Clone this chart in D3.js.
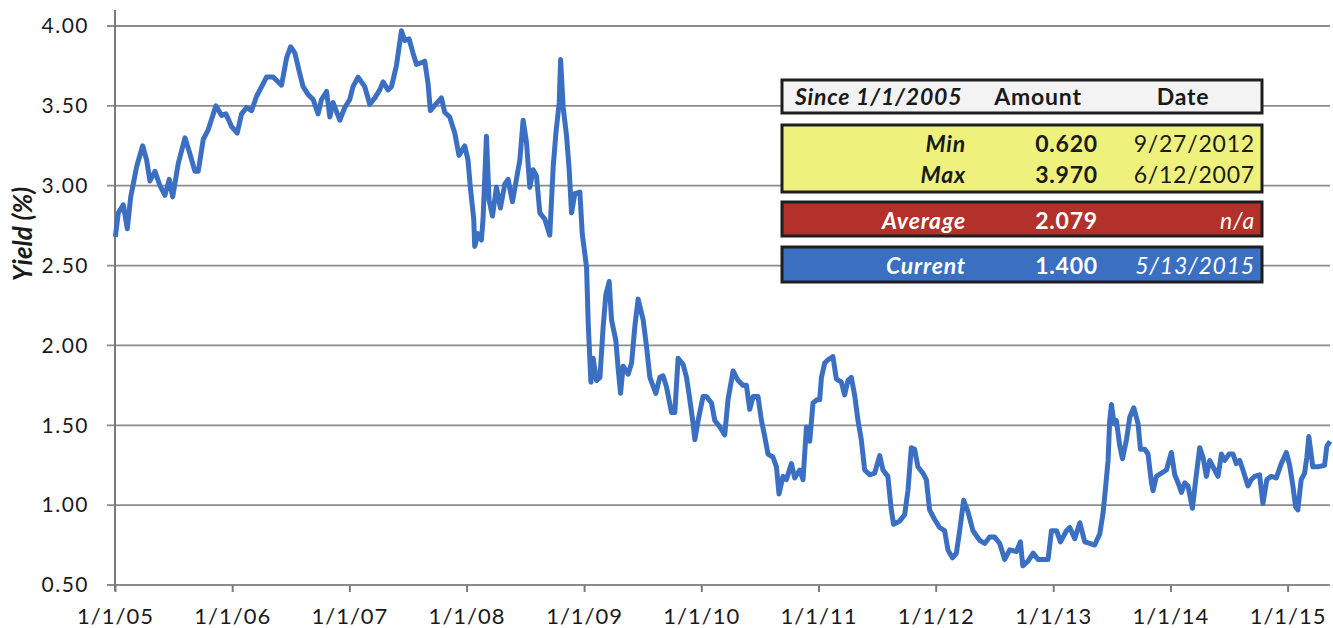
<html>
  <head>
    <title>Yield Since 1/1/2005</title>
    <style>
      body { margin: 0; background: #fff; }
      text { font-family: Lato, "Open Sans", sans-serif; }
    </style>
  </head>
  <body>
    <script src="https://d3js.org/d3.v7.min.js"></script>
    <script>
      const dateYears = [
        2005.003,2005.028,2005.071,2005.105,2005.134,2005.185,2005.236,2005.270,2005.298,2005.341,2005.384,2005.426,2005.463,2005.492,2005.540,2005.597,2005.639,2005.682,2005.710,2005.753,2005.795,2005.861,2005.910,2005.946,2005.995,
        2006.043,2006.080,2006.123,2006.165,2006.208,2006.251,2006.293,2006.350,2006.378,2006.421,2006.464,2006.498,2006.535,2006.577,2006.605,2006.648,2006.691,2006.733,2006.762,2006.805,2006.833,2006.861,2006.918,2006.961,
        2007.003,2007.031,2007.074,2007.131,2007.174,2007.217,2007.259,2007.287,2007.330,2007.359,2007.401,2007.444,2007.472,2007.509,2007.543,2007.572,2007.615,2007.643,2007.671,2007.691,2007.737,2007.785,2007.813,2007.856,2007.899,2007.935,2007.984,
        2008.012,2008.032,2008.061,2008.069,2008.097,2008.126,2008.140,2008.169,2008.191,2008.220,2008.254,2008.288,2008.325,2008.353,2008.390,2008.424,2008.453,2008.481,2008.510,2008.538,2008.566,2008.595,2008.623,2008.666,2008.708,2008.737,2008.760,2008.788,2008.800,2008.822,2008.851,2008.873,2008.893,2008.921,2008.964,2008.984,
        2009.021,2009.035,2009.058,2009.077,2009.106,2009.135,2009.163,2009.186,2009.214,2009.234,2009.271,2009.291,2009.311,2009.333,2009.376,2009.405,2009.433,2009.461,2009.504,2009.533,2009.561,2009.612,2009.646,2009.674,2009.703,2009.746,2009.774,2009.802,2009.845,2009.874,2009.902,2009.930,2009.945,2009.973,
        2010.015,2010.044,2010.087,2010.115,2010.158,2010.200,2010.228,2010.271,2010.314,2010.356,2010.385,2010.413,2010.442,2010.484,2010.513,2010.541,2010.569,2010.612,2010.641,2010.663,2010.697,2010.726,2010.769,2010.797,2010.840,2010.868,2010.897,2010.925,2010.953,2010.987,
        2011.010,2011.025,2011.053,2011.081,2011.123,2011.152,2011.195,2011.223,2011.251,2011.280,2011.308,2011.337,2011.365,2011.394,2011.436,2011.479,2011.522,2011.550,2011.592,2011.621,2011.641,2011.692,2011.735,2011.763,2011.792,2011.820,2011.848,2011.891,2011.920,2011.948,2011.991,
        2012.033,2012.076,2012.104,2012.142,2012.176,2012.204,2012.238,2012.274,2012.317,2012.374,2012.417,2012.459,2012.502,2012.545,2012.587,2012.630,2012.687,2012.721,2012.741,2012.786,2012.829,2012.871,2012.914,2012.956,2012.985,
        2013.028,2013.062,2013.113,2013.141,2013.184,2013.227,2013.269,2013.312,2013.354,2013.397,2013.425,2013.448,2013.468,2013.482,2013.497,2013.519,2013.539,2013.568,2013.591,2013.625,2013.653,2013.687,2013.724,2013.744,2013.781,2013.809,2013.838,2013.852,2013.880,2013.923,2013.966,
        2014.008,2014.037,2014.065,2014.094,2014.122,2014.150,2014.188,2014.216,2014.250,2014.278,2014.307,2014.335,2014.378,2014.406,2014.435,2014.463,2014.500,2014.534,2014.562,2014.591,2014.619,2014.662,2014.690,2014.719,2014.761,2014.789,2014.823,2014.861,2014.903,2014.946,2014.989,
        2015.017,2015.045,2015.068,2015.087,2015.116,2015.145,2015.164,2015.181,2015.215,2015.258,2015.315,2015.335,2015.362
      ];

      // yield (%) at each date
      const yields = [
        2.68,2.83,2.88,2.73,2.93,3.12,3.25,3.16,3.03,3.09,3.00,2.94,3.04,2.93,3.14,3.30,3.20,3.09,3.09,3.29,3.35,3.50,3.44,3.45,3.37,
        3.33,3.45,3.49,3.47,3.56,3.62,3.68,3.68,3.66,3.63,3.80,3.87,3.83,3.70,3.62,3.57,3.54,3.45,3.54,3.59,3.43,3.52,3.41,3.49,
        3.54,3.62,3.68,3.62,3.51,3.55,3.60,3.65,3.60,3.62,3.75,3.97,3.91,3.92,3.83,3.76,3.77,3.78,3.64,3.47,3.51,3.55,3.46,3.43,3.33,3.19,3.25,
        3.16,2.99,2.79,2.62,2.70,2.66,2.79,3.31,2.91,2.81,2.99,2.86,3.01,3.04,2.90,3.04,3.16,3.41,3.27,2.99,3.10,3.06,2.83,2.79,2.69,3.12,3.33,3.52,3.79,3.49,3.31,3.10,2.83,2.95,2.96,2.70,
        2.49,2.14,1.77,1.92,1.78,1.80,2.12,2.32,2.40,2.16,2.03,1.85,1.70,1.87,1.82,1.89,2.12,2.29,2.16,1.99,1.80,1.70,1.80,1.81,1.74,1.58,1.58,1.92,1.88,1.80,1.66,1.51,1.41,1.53,
        1.68,1.68,1.64,1.53,1.49,1.44,1.66,1.84,1.78,1.75,1.75,1.60,1.68,1.68,1.53,1.43,1.32,1.30,1.24,1.07,1.18,1.16,1.26,1.17,1.22,1.16,1.49,1.40,1.64,1.66,
        1.66,1.80,1.89,1.91,1.93,1.79,1.77,1.69,1.78,1.80,1.69,1.53,1.41,1.22,1.19,1.20,1.31,1.22,1.18,0.97,0.88,0.90,0.94,1.09,1.36,1.35,1.24,1.20,1.16,0.97,0.91,
        0.86,0.84,0.72,0.67,0.70,0.84,1.03,0.96,0.84,0.78,0.76,0.80,0.80,0.76,0.66,0.72,0.71,0.77,0.62,0.65,0.70,0.66,0.66,0.66,0.84,
        0.84,0.77,0.84,0.86,0.79,0.89,0.77,0.76,0.75,0.82,0.95,1.12,1.28,1.53,1.63,1.51,1.53,1.37,1.29,1.41,1.55,1.61,1.51,1.35,1.35,1.32,1.14,1.09,1.18,1.20,1.22,
        1.33,1.19,1.14,1.08,1.14,1.12,0.98,1.16,1.36,1.30,1.18,1.28,1.22,1.18,1.32,1.28,1.32,1.32,1.26,1.28,1.22,1.12,1.16,1.18,1.19,1.01,1.16,1.18,1.17,1.26,1.33,
        1.25,1.12,0.99,0.97,1.16,1.20,1.30,1.43,1.24,1.24,1.25,1.37,1.40
      ];

      const yTicks = [0.5, 1.0, 1.5, 2.0, 2.5, 3.0, 3.5, 4.0];
      const xTickYears = [2005, 2006, 2007, 2008, 2009, 2010, 2011, 2012, 2013, 2014, 2015];

      // summary table
      const tableHeader = ["Since 1/1/2005", "Amount", "Date"];
      const statLabels = ["Min", "Max", "Average", "Current"];
      const statAmounts = ["0.620", "3.970", "2.079", "1.400"];
      const statDates = ["9/27/2012", "6/12/2007", "n/a", "5/13/2015"];

      const width = 1333;
      const height = 628;
      const plotLeft = 115, plotRight = 1330, plotTop = 26, plotBottom = 585;
      const lineColor = "#3b6fc2";
      const gridColor = "#8c8c8c";

      // turn a decimal year into a Date
      function yearToDate(yv) {
        const yr = Math.floor(yv);
        const start = new Date(yr, 0, 1), end = new Date(yr + 1, 0, 1);
        return new Date(+start + (yv - yr) * (end - start));
      }

      const data = dateYears.map((d, i) => ({ date: yearToDate(d), value: yields[i] }));

      const x = d3.scaleTime()
        .domain([new Date(2005, 0, 1), new Date(2015, 4, 13)])
        .range([plotLeft, plotRight]);

      const y = d3.scaleLinear()
        .domain([0.5, 4.0])
        .range([plotBottom, plotTop]);

      const svg = d3.select("body").append("svg")
        .attr("width", width)
        .attr("height", height)
        .attr("viewBox", [0, 0, width, height]);

      // horizontal gridlines
      svg.append("g")
        .selectAll("line")
        .data(yTicks)
        .join("line")
          .attr("x1", plotLeft - 8)
          .attr("x2", plotRight)
          .attr("y1", d => y(d))
          .attr("y2", d => y(d))
          .attr("stroke", gridColor)
          .attr("stroke-width", 1.8);

      // y axis labels
      const yAxis = svg.append("g")
        .attr("transform", `translate(${plotLeft},0)`)
        .call(d3.axisLeft(y).tickValues(yTicks).tickFormat(d3.format(".2f")).tickSize(0).tickPadding(26));
      yAxis.select(".domain").remove();
      yAxis.selectAll("text")
        .attr("font-size", 21)
        .attr("letter-spacing", 1.5)
        .attr("font-family", "Lato, sans-serif")
        .attr("fill", "#1a1a1a");

      // vertical axis line
      svg.append("line")
        .attr("x1", plotLeft).attr("x2", plotLeft)
        .attr("y1", 10).attr("y2", plotBottom + 6)
        .attr("stroke", "#7a7a7a")
        .attr("stroke-width", 2);

      // x axis with year ticks
      const xAxis = svg.append("g")
        .attr("transform", `translate(0,${plotBottom})`)
        .call(d3.axisBottom(x)
          .tickValues(xTickYears.map(yr => new Date(yr, 0, 1)))
          .tickFormat(d3.timeFormat("%-m/%-d/%y"))
          .tickSize(7)
          .tickPadding(16));
      xAxis.select(".domain").remove();
      xAxis.selectAll(".tick line")
        .attr("stroke", "#7a7a7a")
        .attr("stroke-width", 2);
      xAxis.selectAll("text")
        .attr("font-size", 22)
        .attr("letter-spacing", 1)
        .attr("font-family", "Lato, sans-serif")
        .attr("fill", "#1a1a1a");

      // y axis title
      svg.append("text")
        .attr("transform", "translate(32,234) rotate(-90)")
        .attr("text-anchor", "middle")
        .attr("font-size", 26)
        .attr("font-weight", "bold")
        .attr("font-style", "italic")
        .attr("fill", "#1a1a1a")
        .text("Yield (%)");

      // the yield line
      const line = d3.line()
        .x(d => x(d.date))
        .y(d => y(d.value));

      svg.append("path")
        .datum(data)
        .attr("fill", "none")
        .attr("stroke", lineColor)
        .attr("stroke-width", 5)
        .attr("stroke-linejoin", "round")
        .attr("d", line);

      // summary table boxes
      const boxX = 782, boxW = 480;
      const boxes = [
        { y: 80, h: 33, fill: "#f3f3f3" },
        { y: 125, h: 67, fill: "#eef27c" },
        { y: 202, h: 34, fill: "#b3302b" },
        { y: 247, h: 35, fill: "#3b6fc2" }
      ];
      svg.append("g")
        .selectAll("rect")
        .data(boxes)
        .join("rect")
          .attr("x", boxX)
          .attr("y", d => d.y)
          .attr("width", boxW)
          .attr("height", d => d.h)
          .attr("fill", d => d.fill)
          .attr("stroke", "#1e1e1e")
          .attr("stroke-width", 3);

      const table = svg.append("g")
        .attr("font-size", 23)
        .attr("letter-spacing", 0.8)
        .attr("fill", "#1a1a1a");

      // header row
      table.append("text").attr("x", 795).attr("y", 105)
        .attr("font-weight", "bold").attr("font-style", "italic").text(tableHeader[0]);
      table.append("text").attr("x", 1038).attr("y", 105).attr("text-anchor", "middle")
        .attr("font-weight", "bold").text(tableHeader[1]);
      table.append("text").attr("x", 1183).attr("y", 105).attr("text-anchor", "middle")
        .attr("font-weight", "bold").text(tableHeader[2]);

      // stat rows
      const rowBase = [152, 183, 229, 274];
      const rowColor = ["#1a1a1a", "#1a1a1a", "#fff", "#fff"];
      statLabels.forEach((label, i) => {
        table.append("text").attr("x", 966).attr("y", rowBase[i]).attr("text-anchor", "end")
          .attr("font-weight", "bold").attr("font-style", "italic").attr("fill", rowColor[i]).text(label);
        table.append("text").attr("x", 1098).attr("y", rowBase[i]).attr("text-anchor", "end")
          .attr("font-weight", "bold").attr("fill", rowColor[i]).text(statAmounts[i]);
        table.append("text").attr("x", 1255).attr("y", rowBase[i]).attr("text-anchor", "end")
          .attr("font-style", i > 1 ? "italic" : "normal").attr("fill", rowColor[i]).text(statDates[i]);
      });
    </script>
  </body>
</html>
